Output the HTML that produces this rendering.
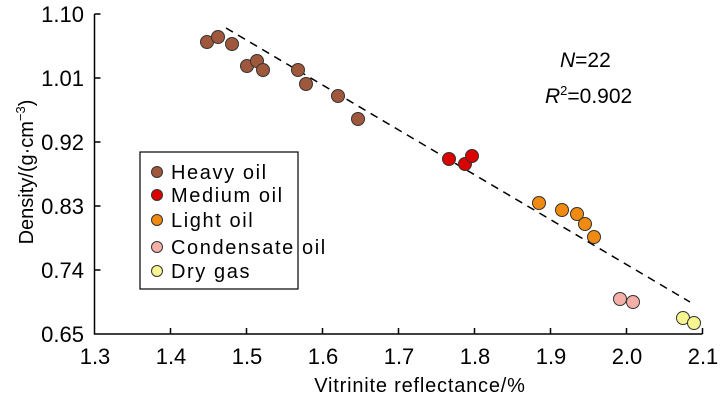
<!DOCTYPE html>
<html><head><meta charset="utf-8"><style>body{margin:0;background:#fff}</style></head><body>
<svg width="722" height="400" xmlns="http://www.w3.org/2000/svg" font-family="Liberation Sans, Arial, sans-serif">
<g stroke="#000" stroke-width="1.5" fill="none">
<path d="M94.5,14 V334 H702.5"/>
<path d="M94.5,14h6M94.5,78h6M94.5,142h6M94.5,206h6M94.5,270h6"/>
<path d="M170.5,334v-6M246.5,334v-6M322.5,334v-6M398.5,334v-6M474.5,334v-6M550.5,334v-6M626.5,334v-6M702.5,334v-6"/>
</g>
<g font-size="22" text-anchor="end">
<text x="84" y="22">1.10</text><text x="84" y="86">1.01</text><text x="84" y="150">0.92</text><text x="84" y="214">0.83</text><text x="84" y="278">0.74</text><text x="84" y="342">0.65</text>
</g>
<g font-size="22" text-anchor="middle">
<text x="95" y="364">1.3</text><text x="171" y="364">1.4</text><text x="247" y="364">1.5</text><text x="323" y="364">1.6</text><text x="399" y="364">1.7</text><text x="475" y="364">1.8</text><text x="551" y="364">1.9</text><text x="627" y="364">2.0</text><text x="703" y="364">2.1</text>
</g>
<text x="420" y="392" font-size="20" text-anchor="middle" letter-spacing="0.8">Vitrinite reflectance/%</text>
<text transform="translate(33,172) rotate(-90)" font-size="20" text-anchor="middle">Density/(g·cm<tspan font-size="13" dy="-8">−3</tspan><tspan dy="8">)</tspan></text>
<path d="M226,28 L690,302" stroke="#000" stroke-width="1.5" stroke-dasharray="8,6"/>
<g stroke="#333" stroke-width="1">
<g fill="#a0583c">
<circle cx="207" cy="42" r="6.5"/><circle cx="218" cy="37" r="6.5"/><circle cx="232" cy="44" r="6.5"/><circle cx="247" cy="66" r="6.5"/><circle cx="257" cy="61" r="6.5"/><circle cx="263" cy="70" r="6.5"/><circle cx="298" cy="70" r="6.5"/><circle cx="306" cy="84" r="6.5"/><circle cx="338" cy="96" r="6.5"/><circle cx="358" cy="119" r="6.5"/>
</g>
<g fill="#dc0000"><circle cx="449" cy="159" r="6.5"/><circle cx="465" cy="164" r="6.5"/><circle cx="472" cy="156" r="6.5"/></g>
<g fill="#f08a10"><circle cx="539" cy="203" r="6.5"/><circle cx="562" cy="210" r="6.5"/><circle cx="577" cy="214" r="6.5"/><circle cx="585" cy="224" r="6.5"/><circle cx="594" cy="237" r="6.5"/></g>
<g fill="#f4b0a8"><circle cx="620" cy="299" r="6.5"/><circle cx="633" cy="302" r="6.5"/></g>
<g fill="#f6f590"><circle cx="683" cy="318" r="6.5"/><circle cx="694" cy="323" r="6.5"/></g>
</g>
<rect x="140" y="152" width="158" height="137" fill="#fff" stroke="#000" stroke-width="1.2"/>
<g stroke="#333" stroke-width="1">
<circle cx="157" cy="172" r="5.5" fill="#a0583c"/><circle cx="157" cy="195" r="5.5" fill="#dc0000"/><circle cx="157" cy="220" r="5.5" fill="#f08a10"/><circle cx="157" cy="247" r="5.5" fill="#f4b0a8"/><circle cx="157" cy="271" r="5.5" fill="#f6f590"/>
</g>
<g font-size="20" letter-spacing="1.6">
<text x="171" y="179">Heavy oil</text><text x="171" y="202">Medium oil</text><text x="171" y="227">Light oil</text><text x="171" y="254">Condensate oil</text><text x="171" y="278">Dry gas</text>
</g>
<g font-size="21">
<text x="560" y="67"><tspan font-style="italic">N</tspan>=22</text>
<text x="545" y="103"><tspan font-style="italic">R</tspan><tspan font-size="13" dy="-8">2</tspan><tspan dy="8">=0.902</tspan></text>
</g>
</svg>
</body></html>
